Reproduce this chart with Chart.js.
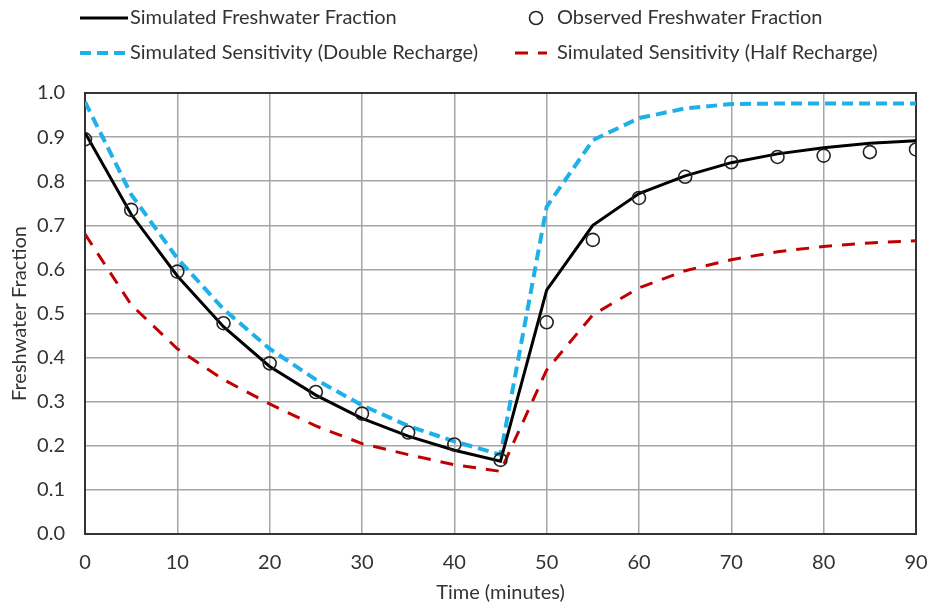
<!DOCTYPE html>
<html>
<head>
<meta charset="utf-8">
<script src="https://cdn.jsdelivr.net/npm/chart.js@4.4.1/dist/chart.umd.min.js"></script>
<style>
  html, body { margin: 0; padding: 0; background: #fff; }
  #wrap { width: 929px; height: 606px; position: relative; }
</style>
</head>
<body>
<div id="wrap"><canvas id="canvas"></canvas></div>
<script>
// data
var times = [0, 5, 10, 15, 20, 25, 30, 35, 40, 45, 50, 55, 60, 65, 70, 75, 80, 85, 90];
var simulated = [0.91, 0.725, 0.585, 0.47, 0.38, 0.315, 0.262, 0.222, 0.19, 0.165, 0.553, 0.70, 0.772, 0.812, 0.842, 0.862, 0.876, 0.886, 0.892];
var observed = [0.895, 0.735, 0.595, 0.478, 0.387, 0.322, 0.273, 0.23, 0.203, 0.168, 0.48, 0.667, 0.762, 0.81, 0.843, 0.855, 0.858, 0.866, 0.872];
var doubleRecharge = [0.98, 0.77, 0.625, 0.51, 0.42, 0.35, 0.292, 0.245, 0.21, 0.18, 0.742, 0.893, 0.943, 0.965, 0.975, 0.976, 0.976, 0.976, 0.976];
var halfRecharge = [0.68, 0.52, 0.42, 0.35, 0.295, 0.245, 0.205, 0.18, 0.157, 0.142, 0.372, 0.497, 0.558, 0.597, 0.622, 0.64, 0.652, 0.66, 0.665];
var xTicks = [0, 10, 20, 30, 40, 50, 60, 70, 80, 90];
var yTicks = [0, 0.1, 0.2, 0.3, 0.4, 0.5, 0.6, 0.7, 0.8, 0.9, 1.0];

var FONT = 'Lato, "Open Sans", sans-serif';

function pts(ys) {
  return times.map(function (t, i) { return { x: t, y: ys[i] }; });
}

// hand made legend in two columns, like the original
var legendPlugin = {
  id: 'twoColLegend',
  afterDraw: function (chart) {
    var ctx = chart.ctx;
    var ds = chart.data.datasets;
    var items = [
      { d: ds[0], x: 80, y: 18, kind: 'line', w: 48 },
      { d: ds[1], x: 536, y: 18, kind: 'point', tx: 557 },
      { d: ds[2], x: 80, y: 53, kind: 'line', w: 48 },
      { d: ds[3], x: 515, y: 53, kind: 'line', w: 32, tx: 557 }
    ];
    ctx.save();
    ctx.font = '20px ' + FONT;
    ctx.fillStyle = '#333';
    ctx.textBaseline = 'middle';
    items.forEach(function (it) {
      var d = it.d;
      if (it.kind === 'line') {
        ctx.beginPath();
        ctx.strokeStyle = d.borderColor;
        ctx.lineWidth = d.borderWidth;
        ctx.setLineDash(d.borderDash || []);
        ctx.moveTo(it.x, it.y);
        ctx.lineTo(it.x + it.w, it.y);
        ctx.stroke();
        ctx.setLineDash([]);
        ctx.fillText(d.label, it.tx || it.x + it.w + 2, it.y);
      } else {
        ctx.beginPath();
        ctx.strokeStyle = d.pointBorderColor;
        ctx.lineWidth = d.pointBorderWidth;
        ctx.arc(it.x, it.y, d.pointRadius, 0, Math.PI * 2);
        ctx.stroke();
        ctx.fillText(d.label, it.tx, it.y);
      }
    });
    ctx.restore();
  }
};

// dark frame round the plot area
var framePlugin = {
  id: 'frame',
  beforeDatasetsDraw: function (chart) {
    var a = chart.chartArea, ctx = chart.ctx;
    ctx.save();
    ctx.strokeStyle = '#333';
    ctx.lineWidth = 2;
    ctx.strokeRect(a.left, a.top, a.right - a.left, a.bottom - a.top);
    ctx.restore();
  }
};

window.onload = function () {
  var ctx = document.getElementById('canvas').getContext('2d');
  window.myChart = new Chart(ctx, {
    type: 'line',
    data: {
      datasets: [{
        label: 'Simulated Freshwater Fraction',
        data: pts(simulated),
        borderColor: '#000',
        borderWidth: 3,
        pointRadius: 0,
        tension: 0,
        order: 2
      }, {
        label: 'Observed Freshwater Fraction',
        data: pts(observed),
        showLine: false,
        pointRadius: 6.5,
        pointBorderWidth: 1.6,
        pointBorderColor: '#222',
        pointBackgroundColor: 'rgba(0,0,0,0)',
        borderColor: '#222',
        order: 0
      }, {
        label: 'Simulated Sensitivity (Double Recharge)',
        data: pts(doubleRecharge),
        borderColor: '#1eb1e9',
        borderWidth: 4,
        borderDash: [11, 6],
        pointRadius: 0,
        tension: 0,
        order: 3
      }, {
        label: 'Simulated Sensitivity (Half Recharge)',
        data: pts(halfRecharge),
        borderColor: '#c00000',
        borderWidth: 3,
        borderDash: [13, 10],
        pointRadius: 0,
        tension: 0,
        order: 4
      }]
    },
    options: {
      responsive: true,
      maintainAspectRatio: false,
      animation: false,
      layout: { padding: { top: 93, right: 0, left: 0, bottom: 0 } },
      plugins: {
        legend: { display: false },
        tooltip: { enabled: false }
      },
      scales: {
        x: {
          type: 'linear',
          min: 0, max: 90,
          afterBuildTicks: function (axis) { axis.ticks = xTicks.map(function (v) { return { value: v }; }); },
          afterFit: function (axis) {
            axis.height = 72;
            axis.paddingLeft = 0;
            axis.paddingRight = 13;
          },
          grid: { color: '#a6a6a6', lineWidth: 1.5, drawTicks: false },
          border: { display: false },
          ticks: { color: '#333', font: { family: FONT, size: 20 }, padding: 17 },
          title: { display: true, text: 'Time (minutes)', color: '#333', font: { family: FONT, size: 20 }, padding: { top: 2, bottom: 1 } }
        },
        y: {
          min: 0, max: 1.0,
          afterBuildTicks: function (axis) { axis.ticks = yTicks.map(function (v) { return { value: v }; }); },
          afterFit: function (axis) { axis.width = 85; },
          grid: { color: '#a6a6a6', lineWidth: 1.5, drawTicks: false },
          border: { display: false },
          ticks: {
            color: '#333', font: { family: FONT, size: 20 }, padding: 20,
            callback: function (v) { return v.toFixed(1); }
          },
          title: { display: true, text: 'Freshwater Fraction', color: '#333', font: { family: FONT, size: 20 }, padding: { top: 8, bottom: 0 } }
        }
      }
    },
    plugins: [framePlugin, legendPlugin]
  });
};
</script>
</body>
</html>
